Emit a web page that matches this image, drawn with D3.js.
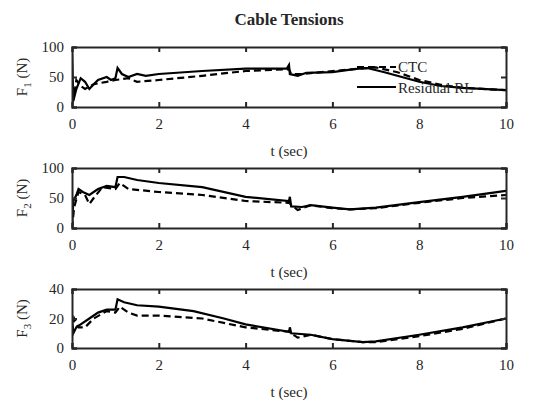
<!DOCTYPE html>
<html><head><meta charset="utf-8">
<script src="https://d3js.org/d3.v7.min.js"></script>
<style>body{margin:0;background:#fff}text{font-family:"Liberation Serif","DejaVu Serif",serif;fill:#262626}</style>
</head><body><svg id="svg" width="560" height="420"></svg>
<script>
// time / value pairs
var f1_rl = [[0,95],[0.03,10],[0.1,30],[0.2,48],[0.3,42],[0.4,30],[0.5,38],[0.6,45],[0.8,50],[0.9,45],[1.0,48],[1.05,65],[1.15,55],[1.3,50],[1.5,55],[1.7,52],[2,55],[3,60],[4,64],[4.95,64],[5,70],[5.02,55],[5.2,52],[5.4,57],[6,58],[6.5,63],[6.8,65],[7.2,58],[7.6,50],[8,42],[8.5,35],[9,32],[10,28]];
var f1_ctc = [[0,5],[0.05,20],[0.1,45],[0.2,35],[0.3,30],[0.5,38],[0.8,42],[1.0,45],[1.3,48],[1.5,42],[2,45],[3,52],[4,60],[5,63],[5.05,55],[5.3,55],[6,60],[6.5,63],[7,66],[7.5,58],[8,45],[8.5,37],[9,32],[10,28]];
var f2_rl = [[0,0],[0.03,45],[0.1,55],[0.15,65],[0.25,60],[0.4,55],[0.6,65],[0.8,70],[1.0,68],[1.05,85],[1.2,85],[1.5,80],[2,75],[3,68],[4,52],[5,45],[5.02,52],[5.05,36],[5.3,35],[5.5,38],[6,34],[6.4,31],[7,34],[8,43],[9,52],[10,62]];
var f2_ctc = [[0,0],[0.05,35],[0.15,60],[0.3,55],[0.4,40],[0.5,50],[0.7,68],[1.0,65],[1.1,75],[1.3,65],[2,60],[3,55],[4,45],[5,42],[5.2,30],[5.5,38],[6,33],[6.4,31],[7,33],[8,42],[9,50],[10,55]];
var f3_rl = [[0,20],[0.03,10],[0.1,14],[0.2,16],[0.4,20],[0.6,24],[0.8,26],[1.0,26],[1.05,33],[1.2,31],[1.5,29],[2,28],[2.8,25],[3.5,20],[4,16],[5,11],[5.02,14],[5.05,10],[5.5,9],[6,6],[6.7,4],[7,4.5],[8,9],[9,14],[10,20]];
var f3_ctc = [[0,10],[0.05,20],[0.15,14],[0.3,14],[0.5,20],[0.8,25],[1.0,24],[1.1,28],[1.3,24],[1.5,22],[2,22],[3,20],[4,14],[5,11],[5.2,7],[5.5,9],[6,6],[6.7,4],[7,4],[8,8],[9,13],[10,20]];
var x_ticks = [0,2,4,6,8,10];

var svg = d3.select("#svg");
svg.append("text").attr("x", 289).attr("y", 25).attr("text-anchor", "middle")
    .style("font-weight", "bold").style("font-size", "17px").text("Cable Tensions");

var panels = [
    {top: 47, bottom: 107, ymax: 100, yticks: [0,50,100], sub: "1", rl: f1_rl, ctc: f1_ctc},
    {top: 168, bottom: 228, ymax: 100, yticks: [0,50,100], sub: "2", rl: f2_rl, ctc: f2_ctc},
    {top: 289, bottom: 348, ymax: 40, yticks: [0,20,40], sub: "3", rl: f3_rl, ctc: f3_ctc}
];

var x = d3.scaleLinear().domain([0, 10]).range([72, 506]);

panels.forEach(function(p) {
    var y = d3.scaleLinear().domain([0, p.ymax]).range([p.bottom, p.top]);
    var g = svg.append("g");
    var line = d3.line().x(function(d) { return x(d[0]); }).y(function(d) { return y(d[1]); });
    var clipId = "clip" + p.sub;
    g.append("clipPath").attr("id", clipId).append("rect")
        .attr("x", 72).attr("y", p.top).attr("width", 434).attr("height", p.bottom - p.top);
    g.append("path").datum(p.ctc).attr("d", line).attr("clip-path", "url(#" + clipId + ")")
        .attr("fill", "none").attr("stroke", "#000").attr("stroke-width", 2.2).attr("stroke-dasharray", "7,4");
    g.append("path").datum(p.rl).attr("d", line).attr("clip-path", "url(#" + clipId + ")")
        .attr("fill", "none").attr("stroke", "#000").attr("stroke-width", 2.2);

    var xa = g.append("g").attr("transform", "translate(0," + p.bottom + ")")
        .call(d3.axisBottom(x).tickValues(x_ticks).tickSize(-5).tickPadding(11));
    var xt = g.append("g").attr("transform", "translate(0," + p.top + ")")
        .call(d3.axisTop(x).tickValues(x_ticks).tickSize(-5).tickFormat(""));
    var ya = g.append("g").attr("transform", "translate(72,0)")
        .call(d3.axisLeft(y).tickValues(p.yticks).tickSize(-5).tickPadding(8));
    var yr = g.append("g").attr("transform", "translate(506,0)")
        .call(d3.axisRight(y).tickValues(p.yticks).tickSize(-5).tickFormat(""));
    [xa, xt, ya, yr].forEach(function(a) {
        a.selectAll("path,line").attr("stroke", "#262626").attr("stroke-width", 2);
        a.selectAll("text").style("font-size", "15px").attr("fill", "#262626");
    });
    g.append("text").attr("x", 289).attr("y", p.bottom + 49).attr("text-anchor", "middle")
        .style("font-size", "15px").text("t (sec)");
    var lab = g.append("text").attr("transform", "translate(27," + ((p.top + p.bottom) / 2) + ") rotate(-90)")
        .attr("text-anchor", "middle").style("font-size", "15px");
    lab.append("tspan").text("F");
    lab.append("tspan").attr("dy", 4).style("font-size", "11px").text(p.sub);
    lab.append("tspan").attr("dy", -4).text(" (N)");
});

// legend in first panel
var leg = svg.append("g");
leg.append("line").attr("x1", 357).attr("x2", 396).attr("y1", 67).attr("y2", 67)
    .attr("stroke", "#000").attr("stroke-width", 2.2).attr("stroke-dasharray", "7,4");
leg.append("text").attr("x", 398).attr("y", 72).style("font-size", "15px").text("CTC");
leg.append("line").attr("x1", 357).attr("x2", 396).attr("y1", 87).attr("y2", 87)
    .attr("stroke", "#000").attr("stroke-width", 2.2);
leg.append("text").attr("x", 398).attr("y", 93).style("font-size", "15px").text("Residual RL");
</script>
</body></html>
